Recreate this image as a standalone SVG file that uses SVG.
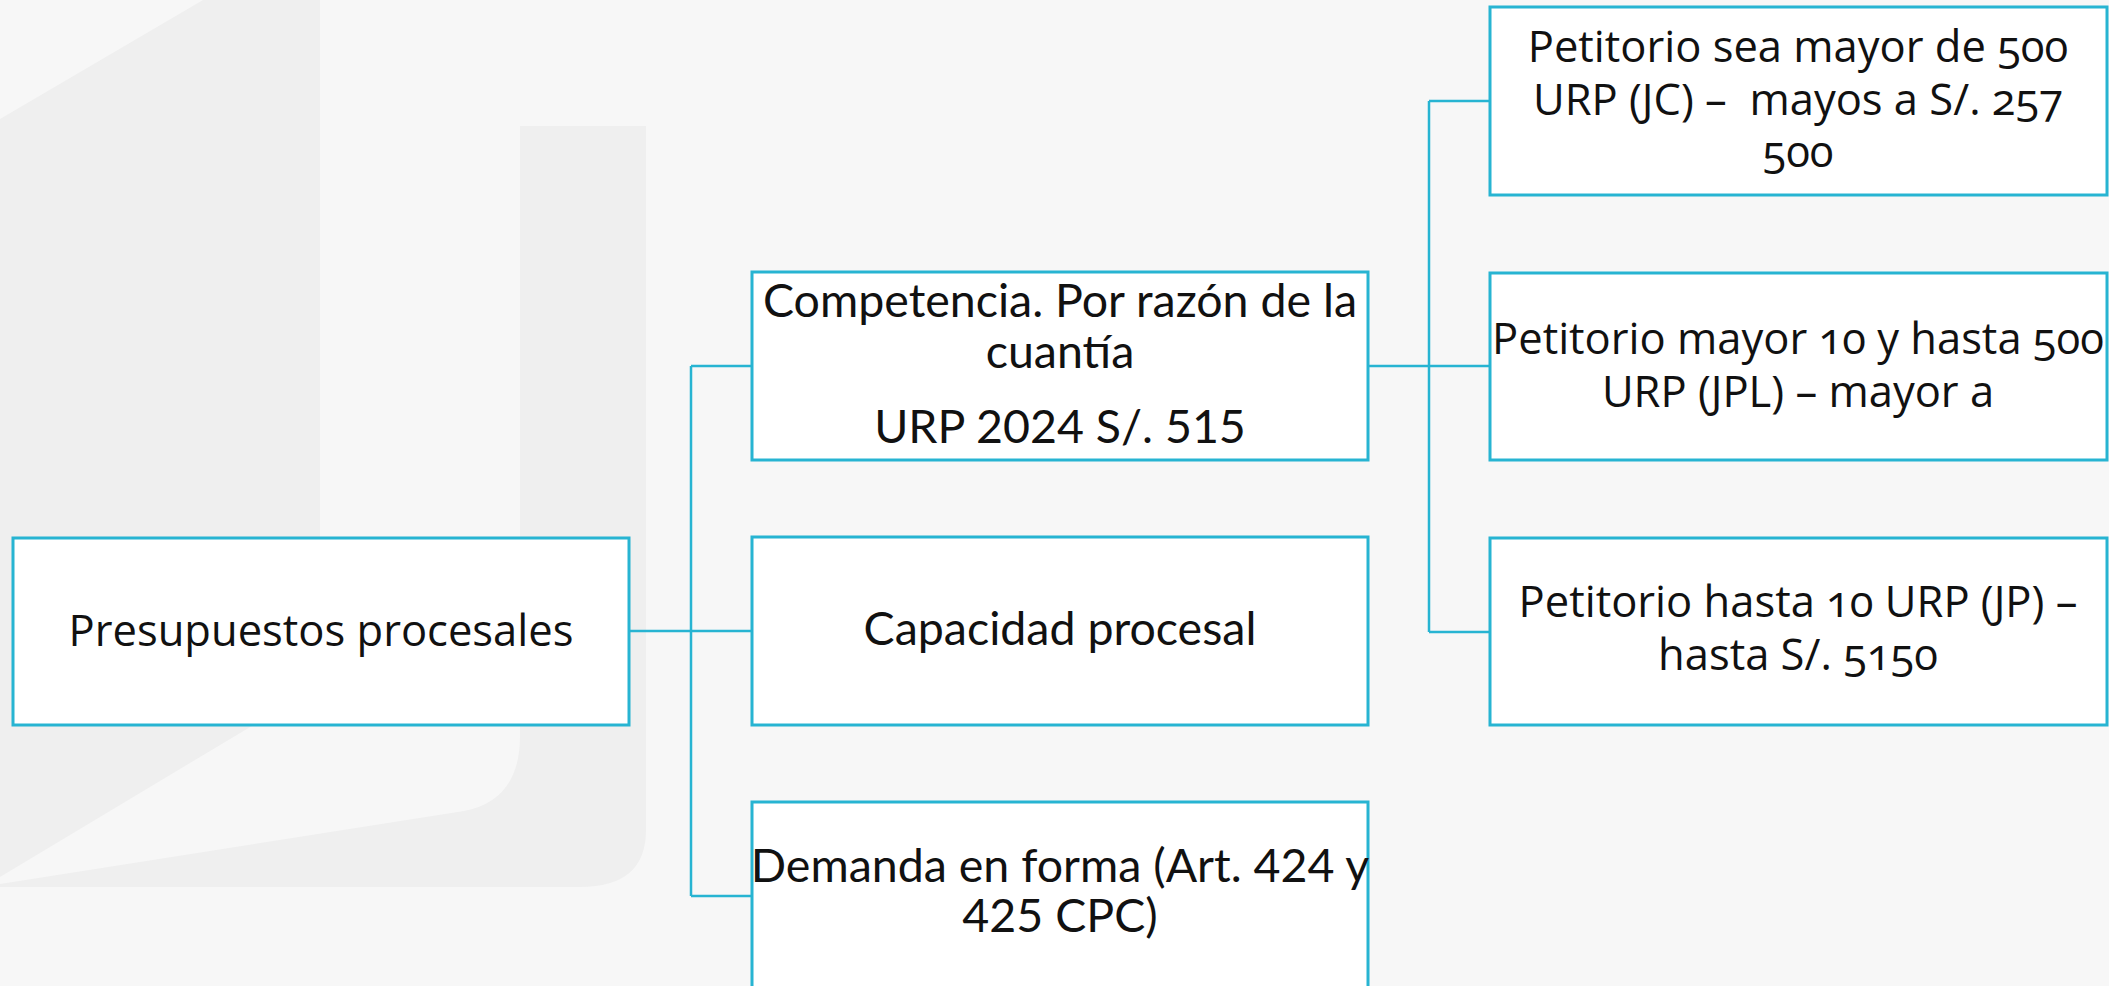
<svg xmlns="http://www.w3.org/2000/svg" width="2109" height="986" viewBox="0 0 2109 986">
<style>
.box{fill:#ffffff;stroke:#27b4d2;stroke-width:3}
.con{fill:none;stroke:#27b4d2;stroke-width:2.5}
.t1{font-family:"Open Sans","Noto Sans",sans-serif;font-size:43.5px;fill:#111;text-anchor:middle;font-variant-numeric:oldstyle-nums}
.t2{font-family:Lato,"Liberation Sans",sans-serif;font-size:46.5px;fill:#111;text-anchor:middle}
.bg{fill:#efefef}
</style>
<rect width="2109" height="986" fill="#f7f7f7"/>
<g id="background">
<path class="bg" d="M0,119 L203,0 L320,0 L320,685 L0,877 Z"/>
<path class="bg" d="M520,126 L646,126 L646,830 Q646,887 580,887 L0,887 L0,884 L464,811 Q520,800 520,736 Z"/>
</g>
<g id="connectors">
<path class="con" d="M629,631 L752,631"/>
<path class="con" d="M691,366 L691,896"/>
<path class="con" d="M691,366 L752,366"/>
<path class="con" d="M691,896 L752,896"/>
<path class="con" d="M1368,366 L1490,366"/>
<path class="con" d="M1429,101 L1429,632"/>
<path class="con" d="M1429,101 L1490,101"/>
<path class="con" d="M1429,632 L1490,632"/>
</g>
<g id="root">
<rect class="box" x="13" y="538" width="616" height="187"/>
<text class="t1" x="321" y="646">Presupuestos procesales</text>
</g>
<g id="competencia">
<rect class="box" x="752" y="272" width="616" height="188"/>
<text class="t2" x="1060" y="317">Competencia. Por razón de la</text>
<text class="t2" x="1060" y="368">cuantía</text>
<text class="t2" x="1060" y="443">URP 2024 S/. 515</text>
</g>
<g id="capacidad">
<rect class="box" x="752" y="537" width="616" height="188"/>
<text class="t2" x="1060" y="645">Capacidad procesal</text>
</g>
<g id="demanda">
<rect class="box" x="752" y="802" width="616" height="188"/>
<text class="t2" x="1060" y="882">Demanda en forma (Art. 424 y</text>
<text class="t2" x="1060" y="932">425 CPC)</text>
</g>
<g id="jc">
<rect class="box" x="1490" y="7" width="617" height="188"/>
<text class="t1" x="1798" y="62">Petitorio sea mayor de 500</text>
<text class="t1" x="1798" y="115" xml:space="preserve">URP (JC) –  mayos a S/. 257</text>
<text class="t1" x="1798" y="167">500</text>
</g>
<g id="jpl">
<rect class="box" x="1490" y="273" width="617" height="187"/>
<text class="t1" x="1798" y="354">Petitorio mayor 10 y hasta 500</text>
<text class="t1" x="1798" y="407">URP (JPL) – mayor a</text>
</g>
<g id="jp">
<rect class="box" x="1490" y="538" width="617" height="187"/>
<text class="t1" x="1798" y="617">Petitorio hasta 10 URP (JP) –</text>
<text class="t1" x="1798" y="670">hasta S/. 5150</text>
</g>
</svg>
